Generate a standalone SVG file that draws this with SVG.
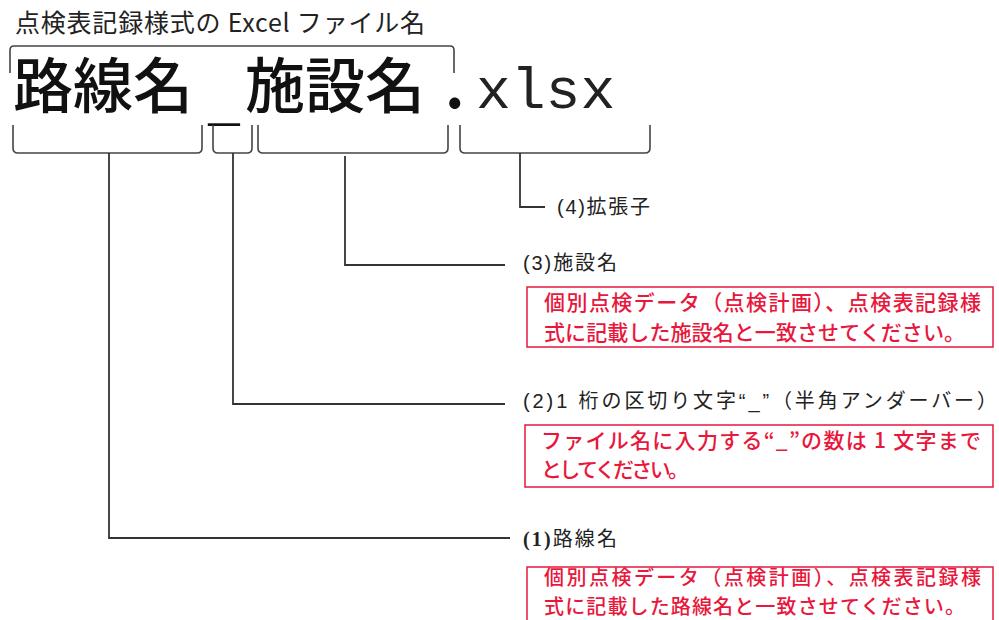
<svg xmlns="http://www.w3.org/2000/svg" width="999" height="620" viewBox="0 0 999 620">
<style>
.title{font-family:"Noto Sans CJK JP","Liberation Sans",sans-serif;font-size:25px;fill:#222}
.big{font-family:"Noto Sans CJK JP",sans-serif;font-size:60px;font-weight:500;fill:#111}
.mono{font-family:"Liberation Mono","Noto Sans CJK JP",monospace;font-size:58px;fill:#222}
.lbl{font-family:"Liberation Sans","Noto Sans CJK JP",sans-serif;font-size:20px;fill:#222}
.note{font-family:"Noto Sans CJK JP",sans-serif;font-size:21px;font-weight:500;fill:#e8173c}
.box{fill:none;stroke:#e8173c;stroke-width:1.5}
.br{fill:none;stroke:#444;stroke-width:1.6}
.ln{fill:none;stroke:#333;stroke-width:1.8}
</style>
<g id="title"><text class="title" x="15" y="32" textLength="410">点検表記録様式の Excel ファイル名</text></g>
<g id="filename">
<text class="big" x="13" y="108">路線名</text>
<text class="big" x="207" y="118" textLength="34" lengthAdjust="spacingAndGlyphs" style="font-weight:300">_</text>
<text class="big" x="245" y="108">施設名</text>
<text class="big" x="445" y="108" style="font-weight:700">.</text>
<text class="mono" x="476" y="108">xlsx</text>
</g>
<g id="brackets">
<path class="br" d="M10 73 L10 50 Q10 46 14 46 L450 46 Q454 46 454 50 L454 73"/>
<path class="br" d="M13 125 L13 148 Q13 153 18 153 L197 153 Q202 153 202 148 L202 125"/>
<path class="br" d="M213 125 L213 148 Q213 153 218 153 L247 153 Q252 153 252 148 L252 125"/>
<path class="br" d="M258 125 L258 148 Q258 153 263 153 L443 153 Q448 153 448 148 L448 125"/>
<path class="br" d="M460 125 L460 148 Q460 153 465 153 L645 153 Q650 153 650 148 L650 125"/>
</g>
<g id="connectors">
<path class="ln" d="M520 153 L520 207 L545 207"/>
<path class="ln" d="M345 156 L345 265 L505 265"/>
<path class="ln" d="M233 153 L233 404 L505 404"/>
<path class="ln" d="M109 153 L109 538 L510 538"/>
</g>
<g id="label4"><text class="lbl" x="557" y="214" textLength="93">(4)拡張子</text></g>
<g id="label3">
<text class="lbl" x="523" y="270" textLength="94">(3)施設名</text>
<rect class="box" x="527" y="287" width="466" height="60"/>
<text class="note" x="544" y="310" textLength="437">個別点検データ（点検計画）、点検表記録様</text>
<text class="note" x="544" y="340" textLength="421">式に記載した施設名と一致させてください。</text>
</g>
<g id="label2">
<text class="lbl" x="523" y="408" textLength="474">(2)1 桁の区切り文字“_”（半角アンダーバー）</text>
<rect class="box" x="525" y="425" width="468" height="62"/>
<text class="note" x="541" y="448" textLength="440">ファイル名に入力する“_”の数は 1 文字まで</text>
<text class="note" x="541" y="477" textLength="148">としてください。</text>
</g>
<g id="label1">
<text class="lbl" x="523" y="546" textLength="94"><tspan style="font-family:'Liberation Serif','Noto Sans CJK JP',serif;font-weight:700">(1)</tspan>路線名</text>
<rect class="box" x="527" y="567" width="466" height="60"/>
<text class="note" x="544" y="585" textLength="437" style="font-size:20px">個別点検データ（点検計画）、点検表記録様</text>
<text class="note" x="544" y="614" textLength="421" style="font-size:20px">式に記載した路線名と一致させてください。</text>
</g>
</svg>
